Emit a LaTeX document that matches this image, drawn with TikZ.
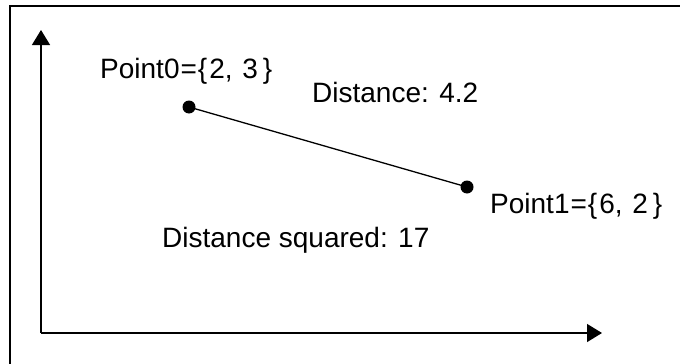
\documentclass[tikz,border=0pt]{standalone}
\usepackage{fontspec}
\setmainfont{Liberation Sans}
\usetikzlibrary{arrows.meta}
\newcommand{\ptlabel}[3]{Point#1\kern1pt=\kern1pt\{\kern2pt#2,\ \kern2pt#3\kern5pt\}}
\begin{document}
\begin{tikzpicture}[x=1pt,y=-1pt,
  lbl/.style={anchor=base west,inner sep=0pt,font=\fontsize{28}{33}\selectfont},
  dot/.style={circle,fill=black,inner sep=0pt,minimum size=13pt},
  axis/.style={line width=1.3pt,-{Triangle[length=15pt,width=18pt]}}]
\useasboundingbox (0,0) rectangle (680,364);
\draw[line width=2pt] (10,364) -- (10,6) -- (680,6);
\coordinate (o) at (41,333);
\coordinate (ytip) at (41,30);
\coordinate (xtip) at (602,333);
\draw[axis] (o) -- (ytip);
\draw[axis] (o) -- (xtip);
\node[dot] (p0) at (189,107) {};
\node[dot] (p1) at (467,187) {};
\draw[line width=1.3pt] (p0.center) -- (p1.center);
\node[lbl] (l0) at (100,78) {\ptlabel{0}{2}{3}};
\node[lbl] (l1) at (490,213) {\ptlabel{1}{6}{2}};
\node[lbl] (d) at (312,102) {Distance: 4.2};
\node[lbl] (ds) at (162,247) {Distance squared: 17};
\end{tikzpicture}
\end{document}
